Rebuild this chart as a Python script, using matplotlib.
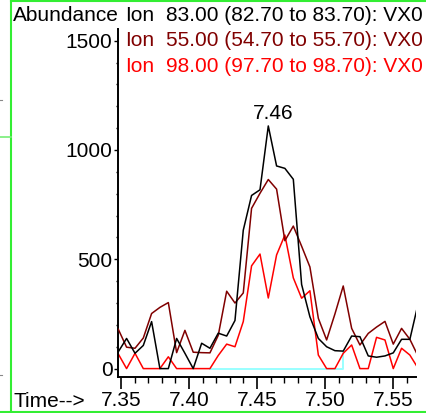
import matplotlib
matplotlib.use("Agg")
import matplotlib.pyplot as plt
from matplotlib.lines import Line2D

# ---- data ----
times = [7.3480, 7.3541, 7.3603, 7.3664, 7.3725, 7.3786, 7.3848, 7.3909, 7.3970,
         7.4031, 7.4093, 7.4154, 7.4215, 7.4277, 7.4338, 7.4399, 7.4460, 7.4522,
         7.4583, 7.4644, 7.4705, 7.4767, 7.4828, 7.4889, 7.4951, 7.5012, 7.5073,
         7.5134, 7.5196, 7.5257, 7.5318, 7.5379, 7.5441, 7.5502, 7.5563, 7.5624,
         7.5686]
ion83 = [77, 138, 70, 106, 215, 0, 0, 138, 70, 0, 116, 93, 162, 149, 220, 633, 792,
         818, 1110, 927, 916, 866, 385, 237, 138, 100, 82, 80, 149, 146, 58, 52, 58,
         72, 134, 134, 300]
ion55 = [180, 98, 93, 140, 252, 280, 302, 73, 175, 75, 73, 72, 152, 354, 300, 346,
         733, 802, 865, 821, 585, 652, 560, 465, 230, 131, 250, 378, 184, 108, 161,
         190, 216, 112, 184, 134, 55]
ion98 = [67, 0, 70, 0, 0, 0, 54, 0, 0, 0, 0, 0, 60, 112, 100, 215, 470, 524, 323,
         520, 611, 415, 322, 356, 62, 0, 0, 70, 108, 0, 0, 143, 131, 0, 93, 62, 0]
baseline_t = [7.4154, 7.5134, 7.5134]
baseline_y = [0, 0, 80]
peak_time = 7.4583
peak_label = "7.46"
legend_lines = [("Ion", "83.00 (82.70 to 83.70): VX0", "#000000"),
                ("Ion", "55.00 (54.70 to 55.70): VX0", "#800000"),
                ("Ion", "98.00 (97.70 to 98.70): VX0", "#ff0000")]
x_ticks = [7.35, 7.40, 7.45, 7.50, 7.55]
y_ticks = [0, 500, 1000, 1500]

W, H = 426, 413
FS = 15
plt.rcParams['font.family'] = ['Liberation Sans', 'DejaVu Sans']
fig = plt.figure(figsize=(W / 100, H / 100), dpi=100)
fig.patch.set_facecolor('white')


def fx(x):
    return x / W


def fy(y):
    return 1 - y / H


# axes: pixel x 118..416, y 29..377
ax = fig.add_axes([fx(118), fy(377), (416 - 118) / W, (377 - 29) / H])
ax.set_xlim(7.34779, 7.56691)
ax.set_ylim(-38.4, 1553.5)
for s in ['top', 'right']:
    ax.spines[s].set_visible(False)
for s in ['left', 'bottom']:
    ax.spines[s].set_linewidth(1.4)
    ax.spines[s].set_color('black')

ax.plot(baseline_t, baseline_y, color='#99ffff', lw=1.4, zorder=1)
ax.plot(times, ion83, color='#000000', lw=1.1, zorder=4)
ax.plot(times, ion55, color='#800000', lw=1.1, zorder=3)
ax.plot(times, ion98, color='#ff0000', lw=1.1, zorder=2)

ax.set_xticks(x_ticks)
ax.set_xticklabels([f"{v:.2f}" for v in x_ticks])
ax.set_xticks([7.36, 7.37, 7.38, 7.39, 7.41, 7.42, 7.43, 7.44, 7.46, 7.47, 7.48,
               7.49, 7.51, 7.52, 7.53, 7.54, 7.56], minor=True)
ax.set_yticks(y_ticks)
ax.set_yticklabels([str(v) for v in y_ticks])
ax.set_yticks([100, 200, 300, 400, 600, 700, 800, 900, 1100, 1200, 1300, 1400],
              minor=True)
ax.tick_params(axis='x', which='major', direction='out', length=8.5, width=1.2,
               labelsize=FS, pad=1.5)
ax.tick_params(axis='x', which='minor', direction='out', length=4.3, width=1.0)
ax.tick_params(axis='y', which='major', direction='out', length=3, width=1.0,
               labelsize=FS, pad=1)
ax.tick_params(axis='y', which='minor', direction='out', length=1.5, width=1.0)

ax.text(peak_time + 0.0033, 1125, peak_label, ha='center', va='bottom', fontsize=FS)

# header texts
fig.text(fx(13), fy(21), "Abundance", fontsize=FS, ha='left', va='baseline')
for i, (a, b, c) in enumerate(legend_lines):
    yb = 21 + 25.5 * i
    fig.text(fx(125), fy(yb), a, fontsize=FS, color=c, ha='left', va='baseline')
    fig.text(fx(166), fy(yb), b, fontsize=FS, color=c, ha='left', va='baseline')
fig.text(fx(13), fy(407), "Time-->", fontsize=FS, ha='left', va='baseline')

# green frame
g = '#33ee33'
fig.add_artist(Line2D([fx(11), fx(11)], [fy(0), fy(413)], color=g, lw=1.5))
fig.add_artist(Line2D([fx(11), fx(426)], [fy(1), fy(1)], color=g, lw=1.5))
fig.add_artist(Line2D([fx(0), fx(426)], [fy(411.5), fy(411.5)], color=g, lw=1.5))
fig.add_artist(Line2D([fx(0), fx(11)], [fy(137), fy(137)], color='#77ee77', lw=1.2))
fig.add_artist(Line2D([fx(0), fx(2)], [fy(100), fy(100)], color='#888888', lw=0.8))
fig.add_artist(Line2D([fx(0), fx(2)], [fy(375), fy(375)], color='#888888', lw=0.8))

fig.savefig("out.png", dpi=100)
